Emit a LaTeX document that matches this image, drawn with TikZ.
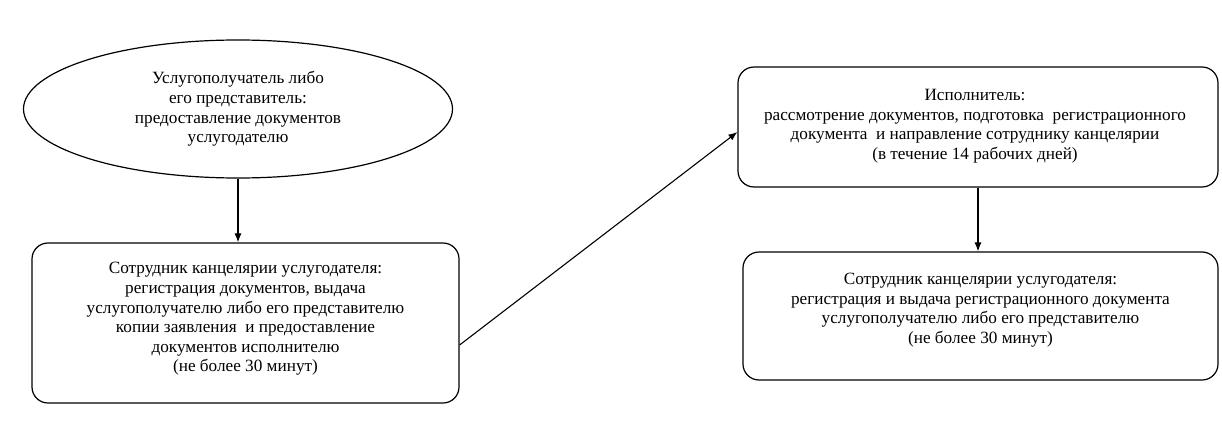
\documentclass[tikz,border=0pt]{standalone}
\usepackage{fontspec}
\setmainfont{Liberation Serif}
\usetikzlibrary{shapes.geometric,arrows.meta}
\begin{document}
\begin{tikzpicture}[x=1pt,y=-1pt,
  every node/.style={font=\fontsize{17.2}{19.6}\selectfont, align=center, inner sep=0pt},
  stagebox/.style={draw, line width=1.2pt, rounded corners=16pt},
  oval/.style={draw, ellipse, line width=1.2pt},
  conn/.style={line width=1.1pt, -{Latex[length=9pt,width=7pt]}}]
\useasboundingbox (0,0) rectangle (1222,425);
\node[oval, minimum width=429pt, minimum height=138pt] (start) at (238,109)
  {Услугополучатель либо\\ его представитель:\\ предоставление документов\\ услугодателю};
\node[stagebox, minimum width=427pt, minimum height=160pt] (reg) at (245.5,323) {};
\node (regtext) at (245.5,319) {Сотрудник канцелярии услугодателя:\\ регистрация документов, выдача\\ услугополучателю либо его представителю\\ копии заявления\ \ и предоставление\\ документов исполнителю\\ (не более 30 минут)};
\node[stagebox, minimum width=480pt, minimum height=120pt] (exec) at (978,127) {};
\node (exectext) at (975,126) {Исполнитель:\\ рассмотрение документов, подготовка\ \ регистрационного\\ документа\ \ и направление сотруднику канцелярии\\ (в течение 14 рабочих дней)};
\node[stagebox, minimum width=475pt, minimum height=128pt] (issue) at (980.5,316) {};
\node (issuetext) at (980.5,310) {Сотрудник канцелярии услугодателя:\\ регистрация и выдача регистрационного документа\\ услугополучателю либо его представителю\\ (не более 30 минут)};
\draw[conn] (start.south) -- (reg.north -| start.south);
\draw[conn] (reg.east |- 0,345) -- (exec.west |- 0,132);
\draw[conn] (exec.south -| 978,0) -- (issue.north -| 978,0);
\end{tikzpicture}
\end{document}
